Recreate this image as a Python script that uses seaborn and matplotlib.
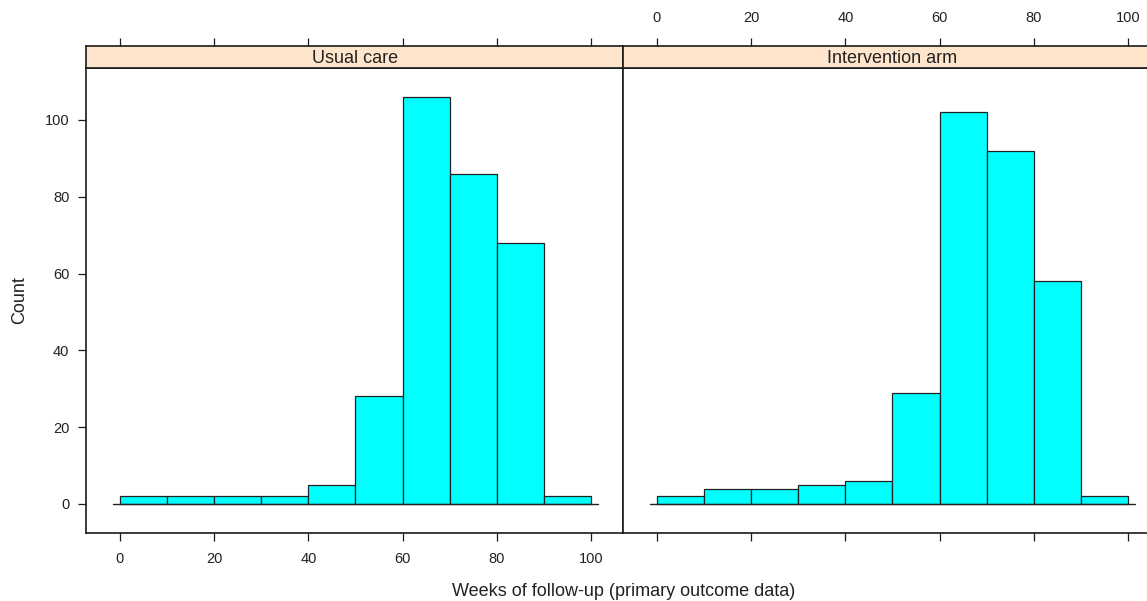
import numpy as np
import pandas as pd
import matplotlib
matplotlib.use("Agg")
import matplotlib.pyplot as plt
import seaborn as sns

# Histogram counts per 10-week bin of follow-up
bin_edges = [0, 10, 20, 30, 40, 50, 60, 70, 80, 90, 100]
usual_care = [2, 2, 2, 2, 5, 28, 106, 86, 68, 2]
intervention = [2, 4, 4, 5, 6, 29, 102, 92, 58, 2]
panels = ["Usual care", "Intervention arm"]
x_ticks = [0, 20, 40, 60, 80, 100]
y_ticks = [0, 20, 40, 60, 80, 100]

sns.set_theme(style="white")
plt.rcParams["font.family"] = ["Liberation Sans", "DejaVu Sans"]

centers = [(a + b) / 2 for a, b in zip(bin_edges[:-1], bin_edges[1:])]
df = pd.concat([
    pd.DataFrame({"arm": panels[0], "weeks": centers, "n": usual_care}),
    pd.DataFrame({"arm": panels[1], "weeks": centers, "n": intervention}),
])

W, H = 1147, 601
fig = plt.figure(figsize=(W / 100, H / 100), dpi=100)

def fx(px):
    return px / W

def fy(py):
    return 1 - py / H

panel_top, panel_bot = 68, 533
strip_top = 46
lefts = [86, 623]
pw = 537
xlim = (-7.2, 106.8)
ylim = (-7.55, 113.5)
border = "#1a1a1a"
tick_fs = 10.5
txt = "#222222"

for i, (name, left) in enumerate(zip(panels, lefts)):
    ax = fig.add_axes([fx(left), fy(panel_bot), fx(pw), (panel_bot - panel_top) / H])
    sub = df[df["arm"] == name]
    sns.histplot(data=sub, x="weeks", weights="n", bins=bin_edges, ax=ax,
                 color="#00ffff", alpha=1, edgecolor="#222222", linewidth=0.9)
    ax.plot([-1.5, 101.5], [0, 0], color="#222222", lw=1.0, zorder=3)
    ax.set_xlim(*xlim)
    ax.set_ylim(*ylim)
    ax.set_xlabel("")
    ax.set_ylabel("")
    for s in ax.spines.values():
        s.set_visible(True)
        s.set_color(border)
        s.set_linewidth(1.2)
    ax.set_xticks(x_ticks)
    ax.set_yticks(y_ticks)
    ax.tick_params(axis="both", direction="out", length=6, width=0.9,
                   color=border, labelsize=tick_fs, labelcolor=txt)
    ax.tick_params(axis="x", bottom=True, top=False, labelbottom=(i == 0), pad=8)
    if i == 0:
        ax.tick_params(axis="y", left=True, right=False, labelleft=True, pad=6)
    else:
        ax.tick_params(axis="y", left=False, right=True, labelleft=False, labelright=False)

    # strip above the panel, carrying the top axis
    sax = fig.add_axes([fx(left), fy(panel_top), fx(pw), (panel_top - strip_top) / H])
    sax.set_facecolor("#ffe5cc")
    sax.set_xlim(*xlim)
    sax.set_ylim(0, 1)
    sax.set_yticks([])
    sax.set_xticks(x_ticks)
    sax.tick_params(axis="x", bottom=False, top=True, labelbottom=False,
                    labeltop=(i == 1), direction="out", length=6, width=0.9,
                    color=border, labelsize=tick_fs, labelcolor=txt, pad=9)
    for s in sax.spines.values():
        s.set_visible(True)
        s.set_color(border)
        s.set_linewidth(1.2)
    sax.text(50, 0.45, name, ha="center", va="center", fontsize=13, color=txt)

fig.text(fx(624), fy(591), "Weeks of follow-up (primary outcome data)",
         ha="center", va="center", fontsize=13, color=txt)
fig.text(fx(20), fy(300), "Count", rotation=90, ha="center", va="center",
         fontsize=13, color=txt)

fig.savefig("out.png", dpi=100)
